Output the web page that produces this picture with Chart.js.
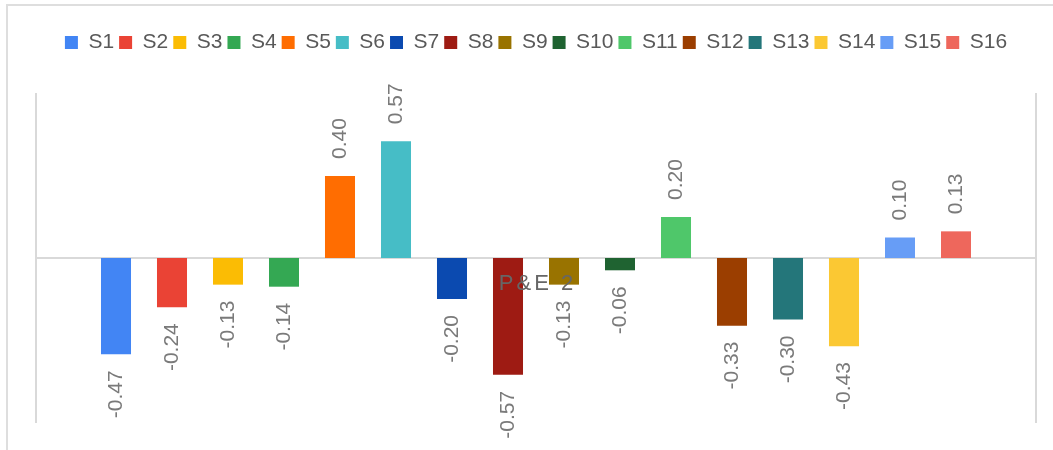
<!DOCTYPE html>
<html>
<head>
<meta charset="utf-8">
<script src="https://cdn.jsdelivr.net/npm/chart.js@4"></script>
<style>
  html, body { margin: 0; padding: 0; background: #fff; }
  #wrap { position: relative; width: 1053px; height: 450px; overflow: hidden; }
  #frame { position: absolute; left: 6px; top: 4px; width: 1060px; height: 460px;
           border-left: 2px solid #dedede; border-top: 2px solid #dedede; box-sizing: border-box; }
  canvas { position: absolute; left: 0; top: 0; }
</style>
</head>
<body>
<div id="wrap">
  <div id="frame"></div>
  <canvas id="c" width="1053" height="450"></canvas>
</div>
<script>
const categories = ["P&E 2"];
const seriesNames = ["S1","S2","S3","S4","S5","S6","S7","S8","S9","S10","S11","S12","S13","S14","S15","S16"];
const seriesValues = [-0.47, -0.24, -0.13, -0.14, 0.40, 0.57, -0.20, -0.57, -0.13, -0.06, 0.20, -0.33, -0.30, -0.43, 0.10, 0.13];
const seriesColors = ["#4285F4","#EA4335","#FBBC04","#34A853","#FF6D01","#46BDC6","#0B4AB0","#9E1B13","#997300","#1F6331","#4FC76A","#9B3E00","#24767A","#FBC833","#679DF6","#EE675C"];
const yMin = -0.8, yMax = 0.8;

const FONT = "'Liberation Sans', Arial, sans-serif";

const legendSpacing = {
  id: 'legendSpacing',
  beforeInit(chart) {
    const legend = chart.legend;
    if (!legend) return;
    const origFit = legend.fit;
    legend.fit = function () {
      origFit.call(this);
      this.height += 31;
    };
  }
};

const valueLabels = {
  id: 'valueLabels',
  afterDatasetsDraw(chart) {
    const ctx = chart.ctx;
    ctx.save();
    ctx.font = "21px " + FONT;
    ctx.fillStyle = "#7a7a7a";
    ctx.textBaseline = "middle";
    chart.data.datasets.forEach((ds, i) => {
      const meta = chart.getDatasetMeta(i);
      meta.data.forEach((bar, j) => {
        const v = ds.data[j];
        const txt = v.toFixed(2);
        ctx.save();
        ctx.translate(bar.x, bar.y);
        ctx.rotate(-Math.PI / 2);
        if (v >= 0) {
          ctx.textAlign = "left";
          ctx.fillText(txt, 17, 0);
        } else {
          ctx.textAlign = "right";
          ctx.fillText(txt, -16, 0);
        }
        ctx.restore();
      });
    });
    // category label drawn over the bars, at the zero line
    const xs = chart.scales.x, ys = chart.scales.y;
    const zeroY = ys.getPixelForValue(0);
    ctx.font = "22px " + FONT;
    ctx.fillStyle = "#666666";
    ctx.textAlign = "center";
    ctx.textBaseline = "middle";
    if ('letterSpacing' in ctx) ctx.letterSpacing = "3px";
    chart.data.labels.forEach((lab, k) => {
      ctx.fillText(lab, xs.getPixelForTick(k) + 1.5, zeroY + 25.5);
    });
    ctx.restore();
  }
};

new Chart(document.getElementById('c'), {
  type: 'bar',
  data: {
    labels: categories,
    datasets: seriesNames.map((n, i) => ({
      label: n,
      data: [seriesValues[i]],
      backgroundColor: seriesColors[i],
      borderWidth: 0,
      categoryPercentage: 0.896,
      barPercentage: 0.536
    }))
  },
  options: {
    responsive: false,
    animation: false,
    devicePixelRatio: 1,
    layout: { padding: { left: 36, right: 17, top: 27, bottom: 28 } },
    plugins: {
      tooltip: { enabled: false },
      legend: {
        position: 'top',
        labels: {
          boxWidth: 13, boxHeight: 13, padding: 5,
          color: '#595959',
          font: { family: FONT, size: 21 }
        }
      }
    },
    scales: {
      x: {
        position: { y: 0 },
        grid: { display: false, drawTicks: false },
        border: { display: true, color: '#d9d9d9', width: 2 },
        ticks: { display: false }
      },
      y: {
        min: yMin, max: yMax,
        ticks: { display: false, stepSize: 0.2 },
        grid: { display: false, drawTicks: false },
        border: { display: true, color: '#d9d9d9', width: 2 }
      },
      y2: {
        position: 'right',
        min: yMin, max: yMax,
        ticks: { display: false },
        grid: { display: false, drawTicks: false },
        border: { display: true, color: '#d9d9d9', width: 2 }
      }
    }
  },
  plugins: [legendSpacing, valueLabels]
});
</script>
</body>
</html>
